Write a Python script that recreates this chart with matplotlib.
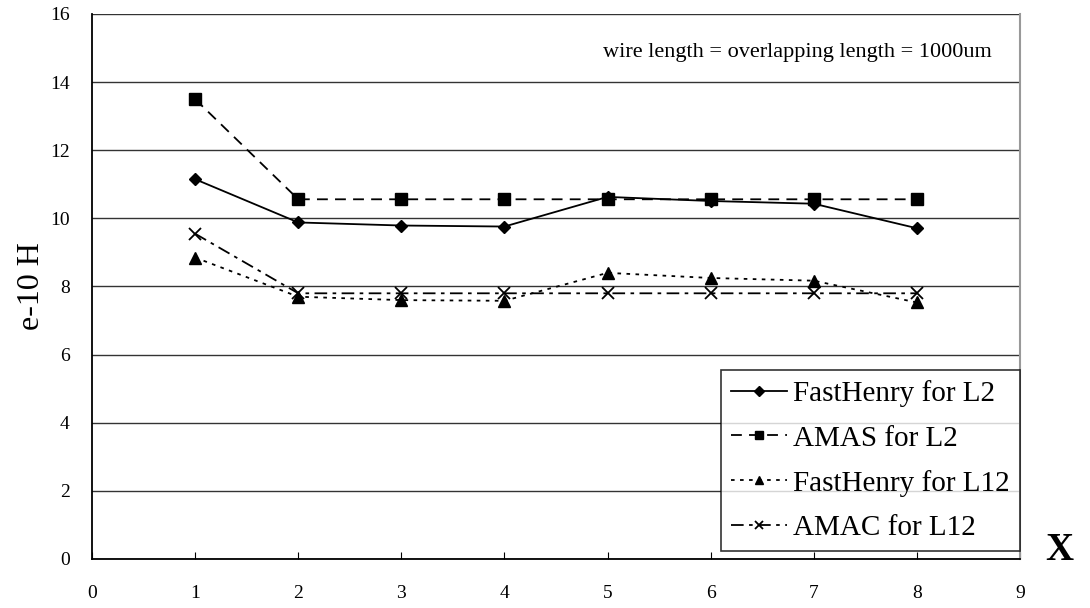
import numpy as np
import matplotlib.pyplot as plt

plt.rcParams['font.family'] = ['Liberation Serif', 'DejaVu Serif']

x = [1, 2, 3, 4, 5, 6, 7, 8]
fasthenry_l2 = [11.15, 9.88, 9.79, 9.76, 10.63, 10.51, 10.43, 9.71]
amas_l2 = [13.5, 10.56, 10.56, 10.56, 10.56, 10.56, 10.56, 10.56]
fasthenry_l12 = [8.85, 7.7, 7.6, 7.58, 8.4, 8.25, 8.17, 7.53]
amac_l12 = [9.55, 7.8, 7.8, 7.8, 7.8, 7.8, 7.8, 7.8]

fig = plt.figure(figsize=(10.9, 6.08), dpi=100)
ax = fig.add_axes([0.0844, 0.0806, 0.8514, 0.8964])

ax.plot(x, fasthenry_l2, color='black', lw=1.3, ls='-', marker='D', ms=6,
        label='FastHenry for L2')
ax.plot(x, amas_l2, color='black', lw=1.3, ls=(0, (6, 4)), marker='s', ms=8,
        label='AMAS for L2')
ax.plot(x, fasthenry_l12, color='black', lw=1.3, ls=(0, (2, 3)), marker='^', ms=8,
        label='FastHenry for L12')
ax.plot(x, amac_l12, color='black', lw=1.3, ls=(0, (7, 3, 2, 3)), marker='x', ms=8,
        mew=1.3, label='AMAC for L12')

ax.set_xlim(0, 9)
ax.set_ylim(0, 16)
ax.set_xticks(range(0, 10))
ax.set_yticks(range(0, 17, 2))
ax.yaxis.grid(True, color='#333333', lw=1)
ax.set_axisbelow(True)
ax.tick_params(axis='x', direction='in', length=5, labelsize=14, pad=19)
ax.tick_params(axis='y', length=0, labelsize=14, pad=16)
ax.spines['top'].set_visible(False)
ax.spines['right'].set_color('#999999')
ax.spines['right'].set_linewidth(1.5)
ax.spines['left'].set_linewidth(1.3)
ax.spines['bottom'].set_linewidth(1.3)

ax.set_ylabel('e-10 H', fontsize=23, labelpad=3)
ax.text(0.97, 0.93, 'wire length = overlapping length = 1000um',
        transform=ax.transAxes, ha='right', va='center', fontsize=16)
fig.text(0.972, 0.095, 'X', fontsize=28, fontweight='bold', ha='center', va='center')

leg = ax.legend(loc='lower right', bbox_to_anchor=(0.9995, 0.014), fontsize=21,
                frameon=True, fancybox=False, edgecolor='black', handlelength=1.9,
                handletextpad=0.2, borderpad=0.35, labelspacing=0.62, borderaxespad=0,
                markerscale=0.8)
leg.get_frame().set_linewidth(1.2)

fig.savefig('out.png', dpi=100, facecolor='white')
